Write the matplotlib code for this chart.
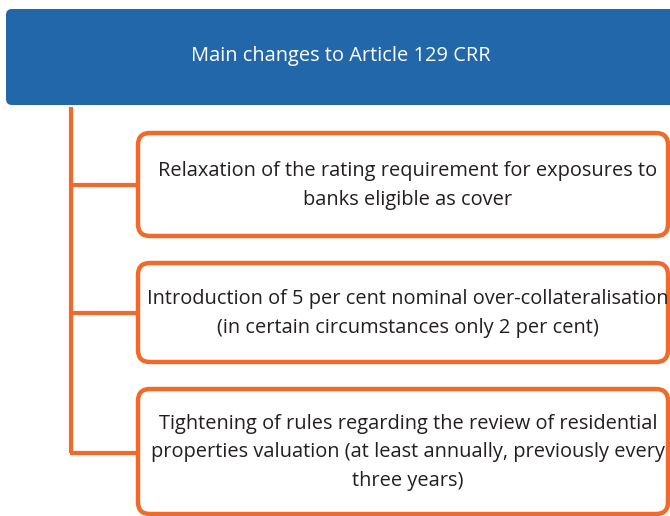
import matplotlib
matplotlib.use('Agg')
import matplotlib.pyplot as plt
from matplotlib.patches import FancyBboxPatch

plt.rcParams['font.family'] = ['Open Sans', 'DejaVu Sans']

header = "Main changes to Article 129 CRR"
items = [
    "Relaxation of the rating requirement for exposures to\nbanks eligible as cover",
    "Introduction of 5 per cent nominal over-collateralisation\n(in certain circumstances only 2 per cent)",
    "Tightening of rules regarding the review of residential\nproperties valuation (at least annually, previously every\nthree years)",
]

BLUE = "#2267a9"
ORANGE = "#f26a2a"
TEXT = "#231f20"

fig = plt.figure(figsize=(6.7, 5.16), dpi=100)
ax = fig.add_axes([0, 0, 1, 1])
ax.set_xlim(0, 670)
ax.set_ylim(516, 0)
ax.axis('off')

# header bar
ax.add_patch(FancyBboxPatch((6, 9), 680, 96, boxstyle="round,pad=0,rounding_size=6",
                            fc=BLUE, ec=BLUE, lw=0))
ax.text(341, 56, header, color='white', fontsize=14.4, ha='center', va='center')

# boxes: (top, bottom, connector y)
boxes = [(133, 236, 185), (263, 362, 313), (389, 514, 453)]
line_x = 71
box_left = 138
box_right = 668

ax.plot([line_x, line_x], [107, boxes[-1][2]], color=ORANGE, lw=3, solid_capstyle='butt')

for (top, bot, cy), label in zip(boxes, items):
    ax.add_patch(FancyBboxPatch((box_left, top), box_right - box_left, bot - top,
                                boxstyle="round,pad=0,rounding_size=12",
                                fc='white', ec=ORANGE, lw=3.2, clip_on=False))
    ax.plot([line_x - 1.5, box_left], [cy, cy], color=ORANGE, lw=3, solid_capstyle='butt')
    ax.text(408, (top + bot) / 2 + 1, label, color=TEXT, fontsize=14.4, ha='center',
            va='center', linespacing=1.55)

fig.savefig('out.png', dpi=100)
